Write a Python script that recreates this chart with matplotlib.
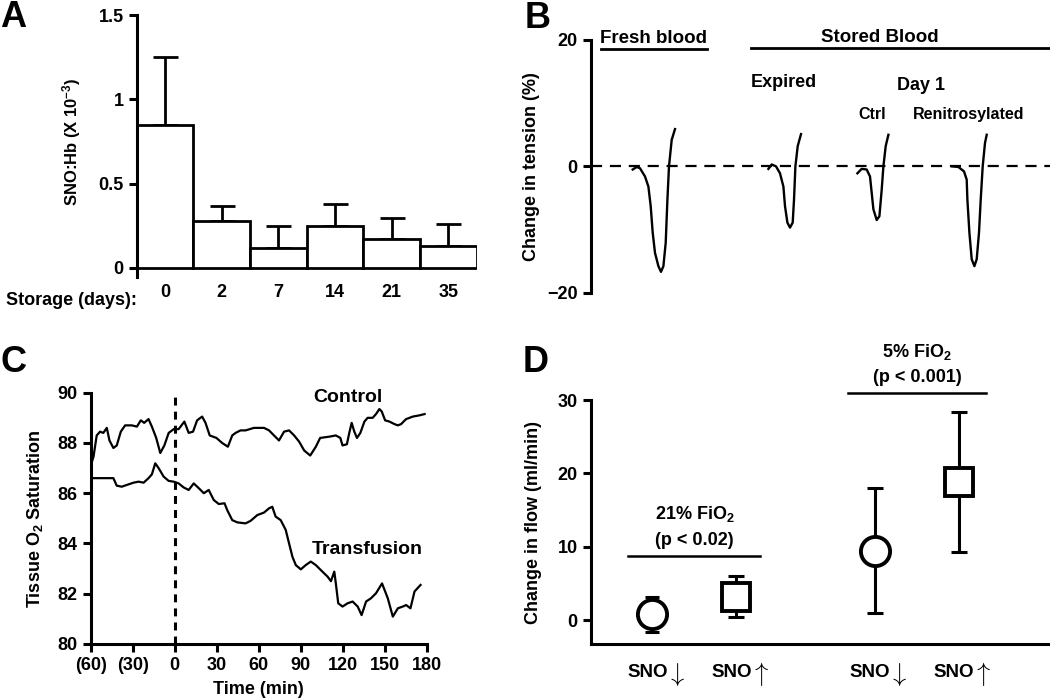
import matplotlib
matplotlib.use("Agg")
import matplotlib.pyplot as plt

plt.rcParams["font.family"] = ["Liberation Sans", "DejaVu Sans"]
plt.rcParams["font.weight"] = "bold"
plt.rcParams["axes.labelweight"] = "bold"
plt.rcParams["mathtext.fontset"] = "custom"
plt.rcParams["mathtext.rm"] = "Liberation Sans:bold"
plt.rcParams["mathtext.it"] = "Liberation Sans:bold"
plt.rcParams["mathtext.bf"] = "Liberation Sans:bold"
plt.rcParams["axes.linewidth"] = 2.2
plt.rcParams["xtick.major.width"] = 2.2
plt.rcParams["ytick.major.width"] = 2.2

# --- Panel A: SNO:Hb vs storage
storage_days = ["0", "2", "7", "14", "21", "35"]
sno_hb = [0.85, 0.28, 0.12, 0.25, 0.17, 0.13]
sno_hb_err = [0.40, 0.085, 0.13, 0.13, 0.125, 0.13]

# --- Panel B: tension traces (x in arbitrary time units)
fresh_x = [42, 46, 49.3, 54.3, 57.7, 60, 62, 64.3, 67.7, 70.3, 72.7, 75, 76.7, 78.3, 81, 84.3]
fresh_y = [-0.5, -0.1, -0.3, -1.6, -3.2, -6.3, -10.5, -13.7, -15.8, -16.7, -15.8, -12.1, -5.3, 0, 4.2, 5.9]
expired_x = [177.7, 181, 185.3, 189.3, 192.7, 194.3, 196.7, 199.3, 202, 203.3, 204.7, 207, 210.3]
expired_y = [-0.4, 0.3, 0, -1.1, -3.2, -6.3, -8.9, -9.7, -8.9, -5.3, 0, 3.2, 5.1]
ctrl_x = [266.7, 271, 276, 279.3, 281, 282.7, 286, 288.7, 291, 292.7, 295, 297.7]
ctrl_y = [-1.1, -0.4, -0.5, -1.6, -4.2, -6.8, -8.5, -7.9, -3.7, 0, 3.2, 5.0]
renit_x = [361, 367.7, 373.3, 376, 376.7, 378.7, 381, 383.7, 386, 388.3, 390, 392, 394.3, 396]
renit_y = [0, -0.1, -0.8, -2.1, -5.3, -10.5, -14.7, -15.8, -14.7, -10.5, -5.3, 0, 3.7, 5.0]

# --- Panel C: tissue O2 saturation
control_t = [-60, -58, -55.7, -53.3, -51, -48.5, -46.6, -43.8, -41.4, -38.5, -35.4, -30.6, -27,
             -24.2, -21.8, -18.7, -16.3, -13.2, -10.3, -7.4, -4.3, -0.7, 2.8, 6.9, 10, 13.1, 16,
             19.6, 22, 25, 29.8, 33.9, 38, 41.1, 43.5, 47, 50.6, 56.6, 63.8, 67.4, 70.9, 74.5,
             78.1, 81.7, 85.3, 88.9, 92.5, 96.8, 100.8, 103.9, 110.4, 115.1, 118.3, 119.9, 123,
             124.7, 126.4, 128.3, 130.2, 132.6, 135.5, 137.8, 141.4, 143.8, 146.2, 147.9, 150.3,
             153.4, 157, 159.4, 161.7, 165.3, 170.1, 174.9, 178.5]
control_sat = [87.1, 87.45, 88.3, 88.45, 88.4, 88.6, 88.1, 87.8, 87.9, 88.45, 88.7, 88.7, 88.65,
               88.9, 88.8, 88.95, 88.65, 88.2, 87.6, 87.9, 88.4, 88.55, 88.55, 88.85, 88.4, 88.45,
               88.9, 89.05, 88.8, 88.3, 88.2, 88.0, 87.85, 88.3, 88.4, 88.5, 88.5, 88.6, 88.6,
               88.5, 88.3, 88.1, 88.45, 88.5, 88.3, 88.05, 87.7, 87.5, 87.85, 88.2, 88.25, 88.3,
               88.2, 87.9, 87.95, 88.4, 88.8, 88.45, 88.2, 88.4, 88.85, 89.0, 89.0, 89.15, 89.35,
               89.25, 88.9, 88.85, 88.75, 88.7, 88.75, 88.95, 89.05, 89.1, 89.15]
transf_t = [-60, -43.8, -41.4, -37.8, -34.2, -29.4, -25.8, -22.2, -18.7, -16.3, -13.9, -11.5, -7.9,
            -4.3, -0.7, 2.8, 6.4, 10.0, 13.6, 17.2, 20.8, 24.3, 27.9, 31.5, 35.6, 37.5, 41.1, 44.7,
            50.6, 54.2, 59.0, 63.8, 67.4, 69.7, 72.1, 75.7, 79.3, 81.7, 84.1, 86.5, 90.1, 93.6,
            97.2, 100.8, 104.4, 109.2, 111.6, 114.0, 115.1, 116.8, 119.9, 123.5, 127.1, 130.7,
            133.5, 136.7, 140.2, 143.8, 148.1, 152.2, 155.8, 159.4, 162.9, 165.3, 168.4, 171.3,
            175.6]
transf_sat = [86.6, 86.6, 86.3, 86.26, 86.33, 86.42, 86.46, 86.42, 86.6, 86.75, 87.19, 87.0, 86.66,
              86.49, 86.46, 86.39, 86.23, 86.13, 86.39, 86.2, 86.0, 86.13, 85.73, 85.57, 85.6,
              85.33, 84.93, 84.84, 84.8, 84.9, 85.13, 85.23, 85.4, 85.46, 85.07, 84.93, 84.54,
              84.0, 83.47, 83.14, 82.97, 83.14, 83.28, 83.14, 82.94, 82.68, 82.5, 82.88, 82.41,
              81.62, 81.49, 81.62, 81.69, 81.49, 81.15, 81.69, 81.82, 82.02, 82.41, 81.82, 81.09,
              81.42, 81.49, 81.55, 81.42, 82.09, 82.35]
c_ticks = [-60, -30, 0, 30, 60, 90, 120, 150, 180]
c_ticklabels = ["(60)", "(30)", "0", "30", "60", "90", "120", "150", "180"]

# --- Panel D: change in flow
d_names = ["SNO", "SNO", "SNO", "SNO"]
d_arrows = ["$\\downarrow$", "$\\uparrow$", "$\\downarrow$", "$\\uparrow$"]
d_pos = [1, 2, 3.65, 4.65]
d_mean = [0.8, 3.2, 9.4, 18.8]
d_lo = [-1.7, 0.45, 1.0, 9.3]
d_hi = [3.2, 6.0, 18.0, 28.3]
d_markers = ["o", "s", "o", "s"]

fig = plt.figure(figsize=(10.5, 6.99), dpi=100)
W, H = 1050.0, 699.0


def place(x0, y0, x1, y1):
    return fig.add_axes([x0 / W, 1 - y1 / H, (x1 - x0) / W, (y1 - y0) / H])


# Panel A
ax = place(136.7, 15, 476.7, 276.7)
xs = list(range(len(sno_hb)))
ax.bar(xs, sno_hb, width=1.0, color="white", edgecolor="black", linewidth=2.0, zorder=2)
ax.errorbar(xs, sno_hb, yerr=[[0] * len(sno_hb), sno_hb_err], fmt="none", ecolor="black",
            elinewidth=2.0, capsize=9, capthick=2.0, zorder=1)
ax.set_xlim(-0.5, 5.5)
ax.set_ylim(-0.052, 1.5)
ax.set_yticks([0, 0.5, 1.0, 1.5])
ax.set_yticklabels(["0", "0.5", "1", "1.5"])
ax.set_xticks(xs)
ax.set_xticklabels(storage_days)
ax.tick_params(axis="x", length=0, pad=5, labelsize=13)
ax.tick_params(axis="y", length=6, labelsize=13)
for s in ["top", "right", "bottom"]:
    ax.spines[s].set_visible(False)
ax.set_ylabel("SNO:Hb (X 10$^{-3}$)", fontsize=12)
ax.yaxis.set_label_coords(-0.158, 0.516)
ax.text(-0.5, -0.058, "Storage (days):", transform=ax.get_xaxis_transform(), ha="right",
        va="top", fontsize=13)

# Panel B
ax = place(590.7, 40, 1050, 292.7)
ax.axhline(0, color="black", lw=1.6, ls=(0, (5, 3.5)))
for tx, ty in [(fresh_x, fresh_y), (expired_x, expired_y), (ctrl_x, ctrl_y), (renit_x, renit_y)]:
    ax.plot(tx, ty, color="black", lw=1.7)
ax.set_xlim(0, 459.3)
ax.set_ylim(-20, 20)
ax.set_yticks([-20, 0, 20])
ax.set_xticks([])
ax.tick_params(axis="y", length=6, labelsize=13)
for s in ["top", "right", "bottom"]:
    ax.spines[s].set_visible(False)
ax.set_ylabel("Change in tension (%)", fontsize=13)
ax.yaxis.set_label_coords(-0.111, 0.5)
ax.text(63.3, 20.3, "Fresh blood", ha="center", va="center", fontsize=13.5, clip_on=False)
ax.plot([10.3, 116], [18.5, 18.5], color="black", lw=2.0, clip_on=False)
ax.text(289.3, 20.4, "Stored Blood", ha="center", va="center", fontsize=13.5, clip_on=False)
ax.plot([160, 459.3], [18.8, 18.8], color="black", lw=2.0, clip_on=False)
ax.text(193.3, 13.2, "Expired", ha="center", va="center", fontsize=13)
ax.text(330, 12.8, "Day 1", ha="center", va="center", fontsize=13)
ax.text(281.7, 8.2, "Ctrl", ha="center", va="center", fontsize=11.5)
ax.text(377.7, 8.2, "Renitrosylated", ha="center", va="center", fontsize=11.5)

# Panel C
ax = place(90.7, 392.7, 426.7, 644)
ax.plot(control_t, control_sat, color="black", lw=1.6)
ax.plot(transf_t, transf_sat, color="black", lw=1.6)
ax.plot([0, 0], [80, 90], color="black", lw=2.2, ls=(0, (2.6, 2.0)))
ax.set_xlim(-60, 180)
ax.set_ylim(80, 90)
ax.set_xticks(c_ticks)
ax.set_xticklabels(c_ticklabels)
ax.set_yticks([80, 82, 84, 86, 88, 90])
ax.tick_params(length=6, labelsize=13)
for s in ["top", "right"]:
    ax.spines[s].set_visible(False)
ax.set_xlabel("Time (min)", fontsize=13)
ax.xaxis.set_label_coords(0.5, -0.148)
ax.set_ylabel("Tissue O$_2$ Saturation", fontsize=13)
ax.yaxis.set_label_coords(-0.136, 0.5)
ax.text(123.5, 89.8, "Control", ha="center", va="center", fontsize=14)
ax.text(137.8, 83.77, "Transfusion", ha="center", va="center", fontsize=14)

# Panel D
ax = place(590.7, 400, 1050, 644)
for i in range(len(d_pos)):
    cs = 4.7 if i == 0 else 6
    ax.errorbar([d_pos[i]], [d_mean[i]],
                yerr=[[d_mean[i] - d_lo[i]], [d_hi[i] - d_mean[i]]],
                fmt="none", ecolor="black", elinewidth=2.2, capsize=cs, capthick=2.2, zorder=2)
    ax.plot([d_pos[i]], [d_mean[i]], marker=d_markers[i], ms=21 if d_markers[i] == "o" else 20,
            mfc="white", mec="black", mew=2.8, ls="none", zorder=3)
    # category label: "SNO" plus a tall thin arrow
    ax.annotate(d_names[i], xy=(d_pos[i], 0), xycoords=ax.get_xaxis_transform(),
                xytext=(11, -24), textcoords="offset points", ha="right", va="baseline",
                fontsize=13.5, annotation_clip=False)
    ax.annotate(d_arrows[i], xy=(d_pos[i], 0), xycoords=ax.get_xaxis_transform(),
                xytext=(16.5, -26.5), textcoords="offset points", ha="center", va="baseline",
                fontsize=19, math_fontfamily="cm", annotation_clip=False)
ax.set_xlim(0.267, 5.73)
ax.set_ylim(-3.27, 30)
ax.set_yticks([0, 10, 20, 30])
ax.set_xticks([])
ax.tick_params(axis="y", length=6, labelsize=13)
for s in ["top", "right"]:
    ax.spines[s].set_visible(False)
ax.set_ylabel("Change in flow (ml/min)", fontsize=13)
ax.yaxis.set_label_coords(-0.106, 0.5)
ax.plot([0.714, 2.28], [8.77, 8.77], color="black", lw=1.8)
ax.text(1.5, 14.5, "21% FiO$_2$", ha="center", va="center", fontsize=13)
ax.text(1.5, 10.9, "(p < 0.02)", ha="center", va="center", fontsize=13)
ax.plot([3.33, 4.97], [30.9, 30.9], color="black", lw=1.8, clip_on=False)
ax.text(4.15, 36.6, "5% FiO$_2$", ha="center", va="center", fontsize=13, clip_on=False)
ax.text(4.15, 33.0, "(p < 0.001)", ha="center", va="center", fontsize=13, clip_on=False)

# panel letters
for letter, x, y in [("A", 0, 27), ("B", 525, 28), ("C", 0, 372), ("D", 523, 372)]:
    fig.text(x / W, 1 - y / H, letter, ha="left", va="baseline", fontsize=26, fontweight="bold")

fig.savefig("out.png", dpi=100)
